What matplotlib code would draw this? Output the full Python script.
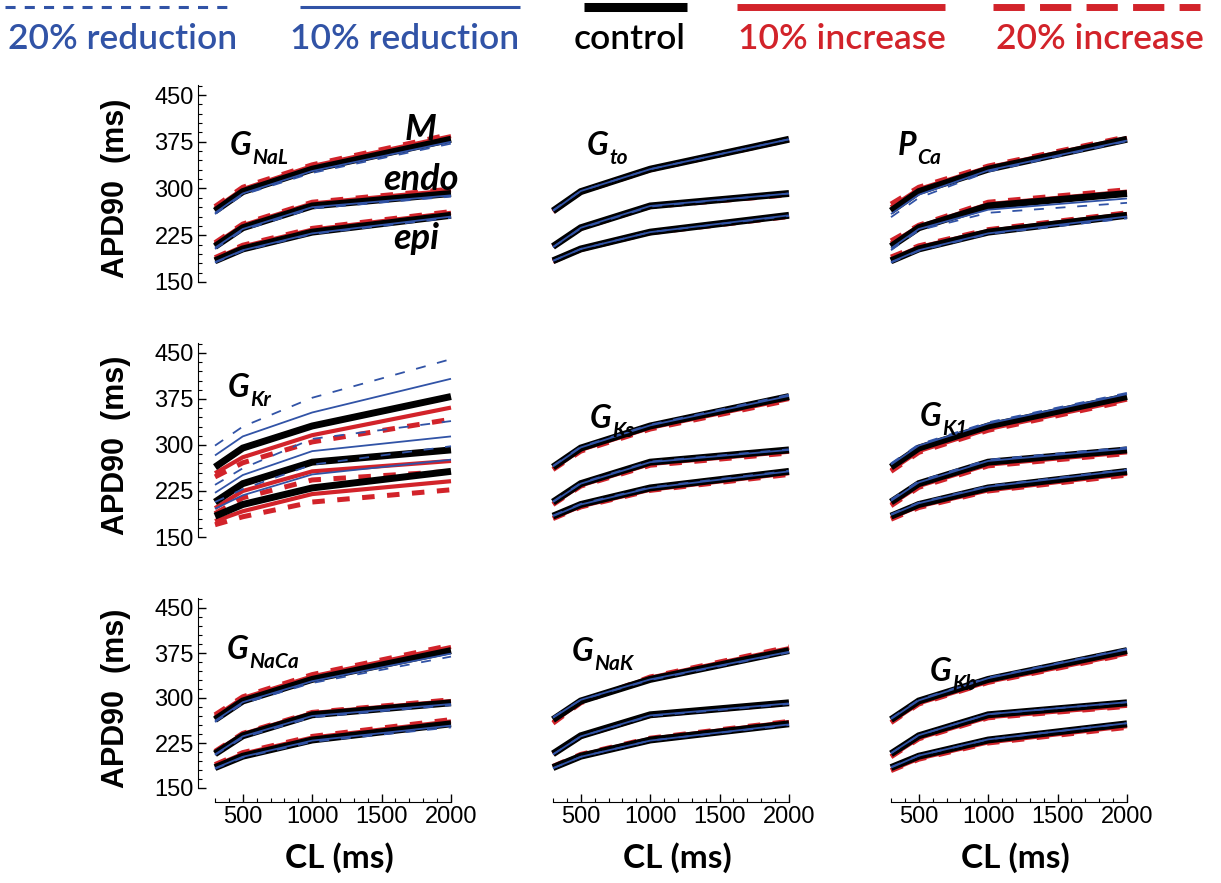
import numpy as np
import matplotlib.pyplot as plt
from matplotlib.lines import Line2D
from matplotlib.ticker import FixedLocator

# --------------------------------------------------------------------------
# Data: APD90 (ms) vs pacing cycle length for M, endo and epi cells.
# Each cell entry lists 5 series: 20% red., 10% red., control, 10% inc., 20% inc.
# --------------------------------------------------------------------------
CL = [300, 500, 1000, 2000]
CELLS = ["M", "endo", "epi"]
LEVELS = ["20% reduction", "10% reduction", "control", "10% increase", "20% increase"]

CTRL_M = [264, 295, 331, 379]
CTRL_ENDO = [207, 237, 272, 292]
CTRL_EPI = [184, 203, 230, 257]

APD_NAL = {
    "M":    [[259, 290, 325, 372], [261, 292, 328, 375], CTRL_M,
             [268, 299, 336, 384], [271, 302, 338, 387]],
    "endo": [[203, 233, 268, 287], [205, 235, 270, 289], CTRL_ENDO,
             [211, 241, 276, 297], [213, 243, 278, 299]],
    "epi":  [[181, 200, 227, 253], [182, 201, 228, 255], CTRL_EPI,
             [187, 207, 234, 261], [189, 209, 236, 263]],
}
APD_TO = {
    "M":    [[265, 296, 331, 379], [264, 296, 331, 379], CTRL_M,
             [264, 295, 330, 378], [263, 294, 330, 378]],
    "endo": [[206, 236, 271, 292], [206, 237, 272, 292], CTRL_ENDO,
             [207, 237, 272, 291], [207, 236, 271, 290]],
    "epi":  [[184, 203, 230, 256], [184, 203, 230, 257], CTRL_EPI,
             [184, 203, 229, 256], [183, 202, 229, 255]],
}
APD_PCA = {
    "M":    [[254, 285, 327, 376], [259, 290, 329, 377], CTRL_M,
             [270, 299, 334, 381], [275, 302, 336, 383]],
    "endo": [[201, 233, 261, 277], [204, 235, 266, 284], CTRL_ENDO,
             [212, 239, 275, 295], [216, 241, 278, 298]],
    "epi":  [[181, 200, 227, 252], [182, 201, 228, 255], CTRL_EPI,
             [187, 206, 232, 259], [190, 208, 234, 261]],
}
APD_KR = {
    "M":    [[299, 330, 377, 440], [283, 314, 353, 408], CTRL_M,
             [254, 280, 316, 361], [248, 271, 305, 342]],
    "endo": [[235, 262, 310, 339], [222, 251, 290, 314], CTRL_ENDO,
             [197, 225, 257, 274], [188, 214, 243, 257]],
    "epi":  [[207, 228, 268, 298], [196, 218, 252, 276], CTRL_EPI,
             [176, 192, 220, 241], [170, 183, 207, 227]],
}
APD_KS = {
    "M":    [[266, 297, 333, 382], [265, 296, 332, 380], CTRL_M,
             [261, 292, 328, 375], [260, 290, 326, 373]],
    "endo": [[208, 238, 273, 293], [207, 237, 272, 292], CTRL_ENDO,
             [204, 234, 269, 289], [203, 233, 267, 287]],
    "epi":  [[185, 204, 231, 258], [184, 203, 230, 257], CTRL_EPI,
             [181, 200, 227, 254], [180, 199, 226, 252]],
}
APD_K1 = {
    "M":    [[270, 301, 337, 385], [268, 299, 335, 383], CTRL_M,
             [259, 290, 326, 374], [257, 288, 324, 372]],
    "endo": [[211, 241, 276, 296], [209, 239, 274, 294], CTRL_ENDO,
             [203, 233, 268, 288], [201, 231, 266, 286]],
    "epi":  [[187, 206, 233, 260], [186, 205, 232, 259], CTRL_EPI,
             [181, 200, 226, 253], [179, 198, 225, 251]],
}
APD_NACA = {
    "M":    [[260, 291, 325, 369], [262, 293, 328, 374], CTRL_M,
             [269, 300, 336, 385], [272, 302, 339, 388]],
    "endo": [[205, 234, 268, 288], [206, 236, 270, 290], CTRL_ENDO,
             [210, 240, 275, 295], [211, 241, 276, 297]],
    "epi":  [[182, 201, 227, 251], [183, 202, 229, 254], CTRL_EPI,
             [187, 207, 234, 261], [189, 209, 236, 264]],
}
APD_NAK = {
    "M":    [[268, 297, 330, 376], [267, 297, 331, 377], CTRL_M,
             [260, 293, 334, 383], [258, 292, 335, 385]],
    "endo": [[206, 236, 270, 290], [206, 236, 271, 291], CTRL_ENDO,
             [207, 236, 271, 291], [207, 236, 271, 291]],
    "epi":  [[183, 202, 229, 255], [183, 202, 229, 256], CTRL_EPI,
             [185, 205, 232, 260], [186, 206, 233, 261]],
}
APD_KB = {
    "M":    [[266, 297, 334, 382], [265, 296, 333, 381], CTRL_M,
             [260, 291, 327, 374], [259, 290, 326, 373]],
    "endo": [[208, 238, 273, 293], [208, 238, 273, 293], CTRL_ENDO,
             [203, 233, 268, 287], [202, 232, 267, 286]],
    "epi":  [[185, 204, 231, 258], [184, 204, 231, 258], CTRL_EPI,
             [180, 199, 226, 253], [179, 198, 225, 251]],
}

PANELS = [
    [("G", "NaL", APD_NAL), ("G", "to", APD_TO), ("P", "Ca", APD_PCA)],
    [("G", "Kr", APD_KR), ("G", "Ks", APD_KS), ("G", "K1", APD_K1)],
    [("G", "NaCa", APD_NACA), ("G", "NaK", APD_NAK), ("G", "Kb", APD_KB)],
]

# --------------------------------------------------------------------------
# Styles
# --------------------------------------------------------------------------
BLUE = "#3153a6"
RED = "#d2232a"
STYLES = [
    dict(color=BLUE, lw=1.3, dashes=(5.5, 6.5)),
    dict(color=BLUE, lw=1.3),
    dict(color="black", lw=5.0),
    dict(color=RED, lw=3.0),
    dict(color=RED, lw=3.6, dashes=(2.5, 2.5)),
]
# increases underneath, control over them, reductions on top
Z_ORDER = [6, 5, 4, 3, 2]

LEGEND_STYLES = [
    dict(color=BLUE, lw=2.2, dashes=(3.3, 3.0)),
    dict(color=BLUE, lw=2.2),
    dict(color="black", lw=6.5),
    dict(color=RED, lw=5.0),
    dict(color=RED, lw=5.0, dashes=(4.5, 2.2)),
]
LEGEND_TEXT_COLORS = [BLUE, BLUE, "black", RED, RED]
LEGEND_LINE_X = [(5, 235), (300, 520), (584, 687), (737, 945), (993, 1200)]
LEGEND_TEXT_X = [123, 405, 630, 842, 1100]

HUMANIST = ["Lato", "DejaVu Sans"]
ARIAL = ["Liberation Sans", "DejaVu Sans"]

W, H = 1221, 883
X300 = [215, 553, 891]          # pixel x of CL = 300 in each column
SX = 236 / 1700                 # pixels per ms along CL
Y150 = [282, 537, 788]          # pixel y of APD = 150 in each row
SY = [187 / 300, 184 / 300, 180 / 300]
XMIN, XMAX = 178, 2000
YMIN, YMAX = 127, 466

# label anchors (pixel): left edge of the big letter, baseline
LABEL_POS = [
    [(230, 155), (587, 155), (898, 155)],
    [(228, 397), (590, 428), (920, 426)],
    [(227, 659), (572, 661), (930, 681)],
]


def fx(x):
    return x / W


def fy(y):
    return 1 - y / H


fig = plt.figure(figsize=(W / 100, H / 100), dpi=100)

for r in range(3):
    for c in range(3):
        left = X300[c] + (XMIN - 300) * SX
        right = X300[c] + (XMAX - 300) * SX
        top = Y150[r] - (YMAX - 150) * SY[r]
        bottom = Y150[r] + (150 - YMIN) * SY[r]
        ax = fig.add_axes([fx(left), fy(bottom), (right - left) / W, (bottom - top) / H])
        ax.set_xlim(XMIN, XMAX)
        ax.set_ylim(YMIN, YMAX)
        ax.patch.set_visible(False)

        big, sub, data = PANELS[r][c]
        for cell in CELLS:
            series = data[cell]
            for k in range(5):
                ax.plot(CL, series[k], solid_capstyle="butt", dash_capstyle="butt",
                        solid_joinstyle="miter", clip_on=False, zorder=Z_ORDER[k],
                        **STYLES[k])

        for s in ("top", "right"):
            ax.spines[s].set_visible(False)
        ax.spines["left"].set_bounds(150, YMAX)
        ax.spines["bottom"].set_bounds(300, 2000)
        ax.spines["left"].set_visible(c == 0)
        ax.spines["bottom"].set_visible(r == 2)

        ax.yaxis.set_major_locator(FixedLocator([150, 225, 300, 375, 450]))
        ax.yaxis.set_minor_locator(FixedLocator(np.arange(150, 466, 15)))
        ax.xaxis.set_major_locator(FixedLocator([500, 1000, 1500, 2000]))
        ax.xaxis.set_minor_locator(FixedLocator(np.arange(300, 2001, 100)))
        ax.tick_params(which="major", direction="in", length=6, width=1,
                       labelsize=17, pad=3)
        ax.tick_params(which="minor", direction="in", length=3, width=0.8)
        ax.tick_params(left=(c == 0), labelleft=(c == 0), which="both")
        ax.tick_params(bottom=(r == 2), labelbottom=(r == 2), which="both")
        for lab in ax.get_xticklabels() + ax.get_yticklabels():
            lab.set_family(ARIAL)

        # channel label with subscript
        lx, ly = LABEL_POS[r][c]
        t = fig.text(fx(lx), fy(ly), big, fontsize=23, fontweight="bold",
                     style="italic", family=HUMANIST, va="baseline", ha="left",
                     zorder=10)
        ax.annotate(sub, xy=(1.0, 0.0), xycoords=t, xytext=(0.5, -3),
                    textcoords="offset points", fontsize=15, fontweight="bold",
                    style="italic", family=HUMANIST, va="baseline", ha="left",
                    annotation_clip=False, zorder=10)

        if c == 0:
            fig.text(fx(116), fy(Y150[r] - 150 * SY[r]), "APD90  (ms)", rotation=90,
                     fontsize=22, fontweight="bold", family=ARIAL,
                     ha="center", va="center")
        if r == 2:
            fig.text(fx(X300[c] + 124), fy(858), "CL (ms)", fontsize=24,
                     fontweight="bold", family=HUMANIST, ha="center", va="center")

# cell type labels in the first panel
for name, (lx, ly) in zip(CELLS, [(405, 140), (383, 190), (393, 249)]):
    fig.text(fx(lx), fy(ly), name, fontsize=26, fontweight="bold", style="italic",
             family=HUMANIST, va="baseline", ha="left")

# legend row along the top
for k in range(5):
    x0, x1 = LEGEND_LINE_X[k]
    fig.add_artist(Line2D([fx(x0), fx(x1)], [fy(7), fy(7)], transform=fig.transFigure,
                          solid_capstyle="butt", dash_capstyle="butt",
                          **LEGEND_STYLES[k]))
    fig.text(fx(LEGEND_TEXT_X[k]), fy(39), LEVELS[k], fontsize=25.5, fontweight="semibold",
             color=LEGEND_TEXT_COLORS[k], family=HUMANIST, ha="center", va="center")

fig.savefig("out.png", dpi=100)
